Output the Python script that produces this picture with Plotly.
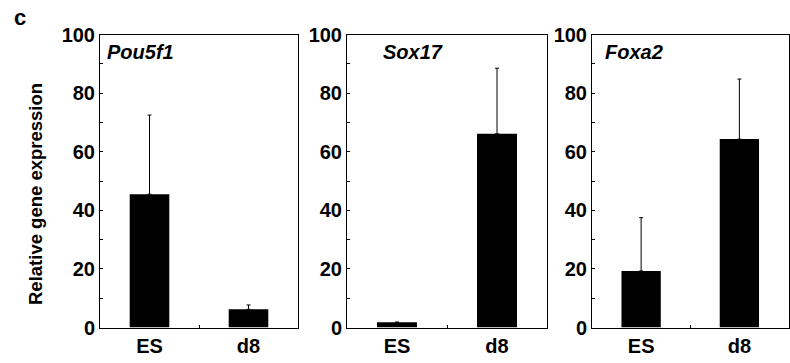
import plotly.graph_objects as go

categories = ["ES", "d8"]
genes = ["Pou5f1", "Sox17", "Foxa2"]
pou5f1_mean = [45.5, 6.2]
pou5f1_err = [27.0, 1.5]
sox17_mean = [1.8, 66.1]
sox17_err = [0.0, 22.4]
foxa2_mean = [19.3, 64.3]
foxa2_err = [18.2, 20.5]
y_ticks = [0, 20, 40, 60, 80, 100]

means = [pou5f1_mean, sox17_mean, foxa2_mean]
errs = [pou5f1_err, sox17_err, foxa2_err]

W, H = 790, 363


def fx(px):
    return px / W


def fy(py):
    return (H - py) / H


px_left = [100, 347, 592]
px_right = [298, 547, 788.5]
py_top, py_bot = 34.5, 327.5
title_x = [105, 381, 603]

FONT = "Liberation Sans, Arial, sans-serif"

fig = go.Figure()
for i in range(3):
    xa = "x" if i == 0 else f"x{i+1}"
    ya = "y" if i == 0 else f"y{i+1}"
    fig.add_trace(go.Bar(
        x=categories, y=means[i], xaxis=xa, yaxis=ya,
        width=0.4, marker=dict(color="black", line=dict(width=0)),
        error_y=dict(type="data", symmetric=False, array=errs[i],
                     arrayminus=[0] * len(categories),
                     color="black", thickness=1, width=2),
        showlegend=False,
    ))
    xk = "xaxis" if i == 0 else f"xaxis{i+1}"
    yk = "yaxis" if i == 0 else f"yaxis{i+1}"
    fig.layout[xk] = dict(
        domain=[fx(px_left[i]), min(fx(px_right[i]), 1.0)], anchor=ya,
        type="category", range=[-0.5, 1.5], tickson="boundaries",
        ticks="inside", ticklen=3, tickcolor="black",
        showline=True, linecolor="black", linewidth=1, mirror=True,
        showgrid=False, zeroline=False, automargin=False,
        tickfont=dict(family=FONT, size=20, color="black", weight="bold"),
    )
    fig.layout[yk] = dict(
        domain=[fy(py_bot), fy(py_top)], anchor=xa,
        range=[0, 100], tickvals=y_ticks,
        ticks="inside", ticklen=3, tickcolor="black",
        minor=dict(dtick=10, ticks="inside", ticklen=3, tickcolor="black", showgrid=False),
        showline=True, linecolor="black", linewidth=1, mirror=True,
        showgrid=False, zeroline=False, automargin=False,
        tickfont=dict(family=FONT, size=20, color="black", weight="bold"),
    )
    fig.add_annotation(
        text=f"<b><i>{genes[i]}</i></b>", xref="paper", yref="paper",
        x=fx(title_x[i]), y=fy(52), xanchor="left", yanchor="middle",
        showarrow=False, font=dict(family=FONT, size=20, color="black"),
    )

fig.add_annotation(
    text="<b>Relative gene expression</b>", xref="paper", yref="paper",
    x=fx(35), y=fy(194), xanchor="center", yanchor="middle",
    textangle=-90, showarrow=False,
    font=dict(family=FONT, size=18.5, color="black"),
)
fig.add_annotation(
    text="<b>c</b>", xref="paper", yref="paper",
    x=fx(20), y=fy(17), xanchor="center", yanchor="middle",
    showarrow=False, font=dict(family=FONT, size=22, color="black"),
)

fig.update_layout(
    width=W, height=H, margin=dict(l=0, r=0, t=0, b=0),
    paper_bgcolor="white", plot_bgcolor="white",
    template="none", bargap=0.6,
)
fig.write_html(
    "out.html",
    config={"displayModeBar": False, "staticPlot": True},
    post_script="document.body.style.margin='0';document.body.style.overflow='hidden';",
)
